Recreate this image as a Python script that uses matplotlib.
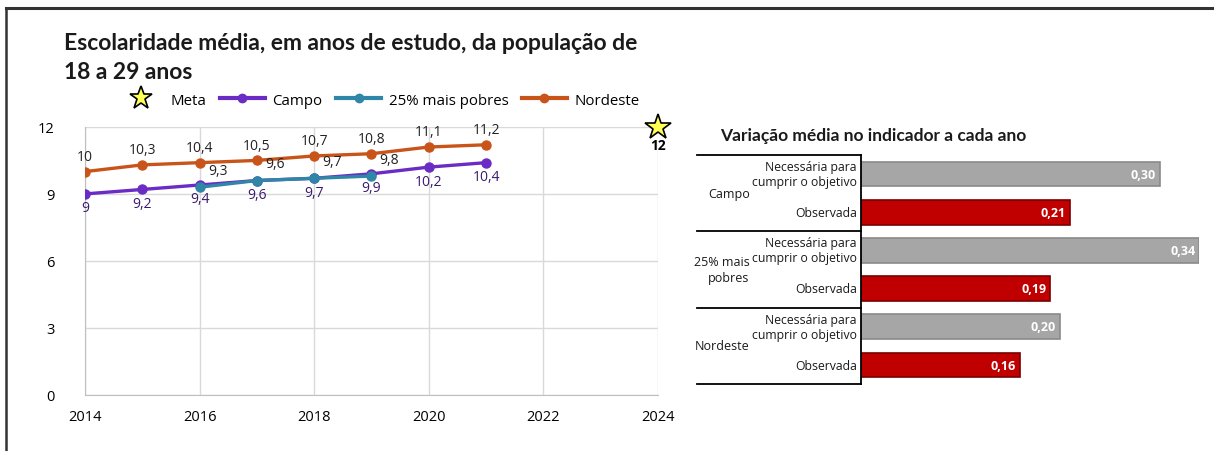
import matplotlib.pyplot as plt
from matplotlib.lines import Line2D

# ---- data ----
anos = [2014, 2015, 2016, 2017, 2018, 2019, 2020, 2021]
campo = [9.0, 9.2, 9.4, 9.6, 9.7, 9.9, 10.2, 10.4]
anos_pobres = [2016, 2017, 2018, 2019]
pobres = [9.3, 9.6, 9.7, 9.8]
nordeste = [10.0, 10.3, 10.4, 10.5, 10.7, 10.8, 11.1, 11.2]
meta_ano = 2024
meta_valor = 12

grupos = ["Campo", "25% mais\npobres", "Nordeste"]
necessaria = [0.30, 0.34, 0.20]
observada = [0.21, 0.19, 0.16]

C_CAMPO = "#6a2cc4"
C_POBRES = "#2f86a6"
C_NORD = "#c9541a"
C_GRAY = "#a6a6a6"
C_RED = "#c00000"

plt.rcParams["font.family"] = ["Open Sans", "DejaVu Sans"]

fig = plt.figure(figsize=(12.14, 4.52), dpi=100)

# frame lines (top and left)
fig.add_artist(Line2D([0.005, 1.0], [0.981, 0.981], color="#333333", lw=2.2))
fig.add_artist(Line2D([0.005, 0.005], [0.0, 0.981], color="#333333", lw=1.8))

fig.text(0.053, 0.872, "Escolaridade média, em anos de estudo, da população de\n18 a 29 anos",
         fontsize=16.5, fontweight="bold", family=["Lato", "DejaVu Sans"],
         va="center", ha="left", linespacing=1.5, color="#1a1a1a")

# ---- line chart ----
ax = fig.add_axes([0.070, 0.124, 0.472, 0.593])
ax.plot(anos, nordeste, color=C_NORD, lw=2.4, marker="o", ms=6.5, zorder=3)
ax.plot(anos, campo, color=C_CAMPO, lw=2.4, marker="o", ms=6.5, zorder=3)
ax.plot(anos_pobres, pobres, color=C_POBRES, lw=2.4, marker="o", ms=6.5, zorder=4)
ax.plot([meta_ano], [meta_valor], marker="*", ms=19, color="#ffff55",
        markeredgecolor="black", markeredgewidth=1.2, clip_on=False, zorder=5)
ax.annotate(f"{meta_valor}", (meta_ano, meta_valor), xytext=(0, -13),
            textcoords="offset points", ha="center", va="center",
            fontsize=10, fontweight="bold")

for x, y in zip(anos, nordeste):
    ax.annotate(f"{y:g}".replace(".", ","), (x, y), xytext=(0, 11),
                textcoords="offset points", ha="center", va="center",
                fontsize=10, color="#222222")
for x, y in zip(anos, campo):
    ax.annotate(f"{y:g}".replace(".", ","), (x, y), xytext=(0, -10),
                textcoords="offset points", ha="center", va="center",
                fontsize=10, color="#3a1a6e")
for x, y in zip(anos_pobres, pobres):
    ax.annotate(f"{y:g}".replace(".", ","), (x, y), xytext=(13, 12),
                textcoords="offset points", ha="center", va="center",
                fontsize=10, color="#222222")

ax.set_xlim(2014, 2024)
ax.set_ylim(0, 12)
ax.set_xticks(range(2014, 2025, 2))
ax.set_yticks([0, 3, 6, 9, 12])
ax.grid(True, color="#d9d9d9", lw=1)
ax.set_axisbelow(True)
for s in ["top", "right"]:
    ax.spines[s].set_visible(False)
for s in ["left", "bottom"]:
    ax.spines[s].set_color("#bfbfbf")
ax.tick_params(length=0, labelsize=10.5, pad=10)
ax.tick_params(axis="y", pad=22)

handles = [
    Line2D([], [], ls="none", marker="*", ms=17, color="#ffff55",
           markeredgecolor="black", markeredgewidth=1.2),
    Line2D([], [], color=C_CAMPO, lw=3, marker="o", ms=6),
    Line2D([], [], color=C_POBRES, lw=3, marker="o", ms=6),
    Line2D([], [], color=C_NORD, lw=3, marker="o", ms=6),
]
fig.legend(handles, ["Meta", "Campo", "25% mais pobres", "Nordeste"],
           loc="center", bbox_to_anchor=(0.312, 0.776), ncol=4, frameon=False,
           fontsize=10.8, handlelength=3, columnspacing=0.9, handletextpad=0.5)

# ---- bar chart ----
bx = fig.add_axes([0.709, 0.148, 0.279, 0.507])
vals, cols, edges, labels = [], [], [], []
for n, o in zip(necessaria, observada):
    vals += [n, o]
    cols += [C_GRAY, C_RED]
    edges += ["#8a8a8a", "#7a0000"]
    labels += ["Necessária para\ncumprir o objetivo", "Observada"]
pos = list(range(len(vals)))
bx.barh(pos, vals, height=0.65, color=cols, edgecolor=edges, linewidth=1.2)
for p, v in zip(pos, vals):
    bx.text(v - 0.004, p, f"{v:.2f}".replace(".", ","), ha="right", va="center",
            color="white", fontsize=9, fontweight="bold")
for p, lab in zip(pos, labels):
    bx.text(-0.004, p, lab, ha="right", va="center", fontsize=8.8,
            linespacing=1.2, color="#1a1a1a")
for i, g in enumerate(grupos):
    bx.text(-0.328, 2 * i + 0.5, g, ha="right", va="center",
            transform=bx.get_yaxis_transform(), fontsize=9, linespacing=1.35,
            color="#1a1a1a")
for yb in [-0.5, 1.5, 3.5, 5.5]:
    bx.plot([-0.484, 0], [yb, yb], color="black", lw=1.3, clip_on=False,
            transform=bx.get_yaxis_transform())

bx.set_xlim(0, 0.34)
bx.set_ylim(5.5, -0.5)
bx.set_xticks([])
bx.set_yticks([])
for s in ["top", "right", "bottom"]:
    bx.spines[s].set_visible(False)
bx.spines["left"].set_linewidth(1.3)

fig.text(0.593, 0.700, "Variação média no indicador a cada ano", fontsize=12.5,
         fontweight="bold", family=["Lato", "DejaVu Sans"], ha="left", va="center",
         color="#1a1a1a")

fig.savefig("out.png", dpi=100)
